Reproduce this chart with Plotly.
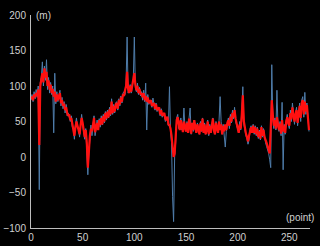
import plotly.graph_objects as go

red = [
    82, 85, 80, 88, 84, 90, 86, 95, 17, 100,
    110, 118, 105, 125, 112, 120, 100, 108, 95, 102,
    90, 96, 85, 92, 78, 88, 80, 84, 90, 76,
    80, 72, 75, 66, 70, 62, 58, 60, 52, 55,
    45, 38, 30, 42, 50, 44, 38, 32, 45, 55,
    48, 35, 28, 38, 20, -15, 10, 30, 40, 36,
    45, 55, 35, 40, 48, 38, 52, 45, 55, 46,
    58, 50, 62, 54, 64, 56, 67, 60, 78, 62,
    72, 64, 74, 76, 68, 80, 74, 84, 78, 88,
    86, 94, 100, 120, 96, 90, 100, 92, 102, 105,
    118, 102, 94, 100, 90, 96, 88, 90, 84, 90,
    80, 86, 78, 84, 76, 78, 80, 72, 74, 76,
    68, 74, 66, 68, 70, 60, 66, 58, 60, 62,
    54, 52, 57, 46, 45, 40, 30, 10, 0, 5,
    25, 52, 56, 44, 38, 52, 40, 35, 50, 42,
    36, 48, 34, 54, 40, 33, 48, 38, 52, 40,
    34, 46, 38, 32, 48, 36, 54, 34, 46, 32,
    38, 50, 32, 44, 34, 48, 54, 38, 32, 48,
    42, 34, 50, 38, 46, 32, 44, 36, 46, 38,
    48, 52, 44, 57, 50, 62, 56, 66, 54, 46,
    38, 34, 46, 40, 60, 87, 50, 38, 33, 28,
    22, 30, 36, 42, 34, 44, 34, 42, 32, 40,
    28, 36, 26, 42, 30, 38, 28, 25, 20, 15,
    8, 5, 40, 80, 60, 44, 52, 40, 56, 46,
    38, 47, 33, 52, 36, 44, 34, 50, 56, 48,
    44, 62, 53, 70, 60, 50, 60, 66, 48, 62,
    72, 55, 76, 80, 60, 78, 64, 73, 50, 38,
]

blue = [
    80, 88, 78, 92, 82, 95, 84, 100, -46, 105,
    112, 134, 100, 128, 108, 137, 95, 112, 90, 105,
    88, 100, 34, 118, 75, 92, 78, 88, 94, 72,
    84, 68, 78, 62, 74, 58, 62, 56, 50, 58,
    42, 40, 25, 45, 55, 40, 42, 28, 48, 60,
    45, 30, 25, 40, 15, -25, 5, 35, 45, 30,
    50, 58, 30, 42, 52, 38, 54, 42, 58, 45,
    60, 48, 64, 52, 66, 55, 70, 58, 82, 60,
    74, 62, 76, 78, 66, 82, 72, 86, 76, 90,
    92, 88, 104, 169, 90, 96, 102, 90, 104, 110,
    169, 98, 92, 104, 88, 98, 86, 92, 80, 94,
    78, 104, 38, 88, 74, 80, 76, 70, 83, 72,
    66, 76, 64, 70, 66, 58, 68, 56, 62, 58,
    50, 56, 52, 44, 99, 36, 20, -56, -91, 0,
    20, 55, 60, 40, 45, 55, 38, 42, 69, 40,
    36, 50, 34, 55, 69, 32, 48, 36, 52, 38,
    34, 48, 36, 32, 50, 36, 55, 34, 48, 32,
    36, 52, 30, 46, 34, 50, 55, 36, 32, 50,
    38, 34, 52, 85, 50, 32, 46, 34, 14, 36,
    50, 55, 40, 60, 48, 66, 54, 70, 50, 44,
    36, 34, 50, 38, 66, 99, 46, 36, 30, 26,
    18, 24, 40, 44, 34, 46, 32, 44, 30, 42,
    26, 38, 24, 44, 28, 40, 26, 20, 15, 10,
    5, -4, -15, 130, 56, 40, 55, 38, 94, 44,
    36, 50, 30, 77, -18, 46, 32, 52, 60, 46,
    40, 66, 50, 76, 58, 46, 62, 70, 44, 64,
    76, 50, 80, 85, 56, 91, 60, 76, 46, 36,
]

points = list(range(len(red)))
x_ticks = [0, 50, 100, 150, 200, 250]
y_ticks = [-100, -50, 0, 50, 100, 150, 200]

fig = go.Figure()
fig.add_trace(go.Scatter(x=points, y=blue, mode="lines",
                         line=dict(color="#4f7dab", width=1)))
fig.add_trace(go.Scatter(x=points, y=red, mode="lines",
                         line=dict(color="#ff1010", width=2.2)))

axis_font = dict(family="Liberation Sans, Arial, sans-serif", size=10, color="#d0d0d0")
fig.update_layout(
    width=320, height=246,
    margin=dict(l=31, r=10, t=15, b=18),
    paper_bgcolor="black", plot_bgcolor="black",
    showlegend=False,
    font=axis_font,
    xaxis=dict(range=[0, 270], tickvals=x_ticks, showgrid=False, zeroline=False,
               showline=True, linecolor="#bdbdbd", linewidth=1, ticks="",
               tickfont=axis_font, fixedrange=True, automargin=False),
    yaxis=dict(range=[-100, 200], tickvals=y_ticks, showgrid=False, zeroline=False,
               showline=True, linecolor="#bdbdbd", linewidth=1, ticks="",
               tickfont=axis_font, ticklabelstandoff=2, fixedrange=True,
               automargin=False),
    annotations=[
        dict(text="(m)", x=0, y=1, xref="paper", yref="paper", xanchor="left",
             yanchor="middle", xshift=3, showarrow=False, font=axis_font),
        dict(text="(point)", x=1, y=0, xref="paper", yref="paper", xanchor="right",
             yanchor="bottom", xshift=6, yshift=3, showarrow=False, font=axis_font),
    ],
)
fig.write_html("out.html", config={"displayModeBar": False})
